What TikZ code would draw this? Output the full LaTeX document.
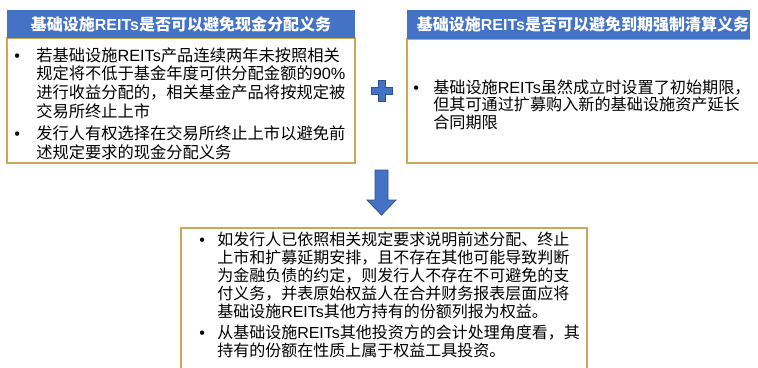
\documentclass[tikz,border=0pt]{standalone}
\usepackage{fontspec}
\setmainfont{Noto Sans CJK SC}
\newfontfamily\lat{Liberation Sans}
\definecolor{hdrblue}{RGB}{68,114,196}
\definecolor{hdredge}{RGB}{47,82,143}
\definecolor{gold}{RGB}{204,168,84}
\lineskiplimit=-20pt
\newcommand{\Rt}{{\lat REITs}}
\newcommand{\bulitem}[3]{\makebox[#1][l]{\lat •}\parbox[t]{#2}{#3}}
\begin{document}
\begin{tikzpicture}[x=0.75pt,y=-0.75pt,
  hdr/.style={fill=hdrblue,draw=none,inner sep=0pt,text=white,font=\fontsize{12}{14}\selectfont\bfseries},
  item/.style={inner sep=0pt,anchor=base west},
  frame/.style={draw=gold,line width=0.8pt},
  blk/.style={fill=hdrblue,draw=hdredge,line width=0.6pt,line join=miter}]
\useasboundingbox (0,0) rectangle (758,368);

% boxes
\node[frame,inner sep=0pt,minimum width=261pt,minimum height=93.75pt] (lbox) at (181,100.5) {};
\draw[frame] (750,39) -- (407,39) -- (407,163) -- (760,163);
\draw[frame] (181,372) -- (181,228) -- (587,228) -- (587,372);

% headers
\node[hdr,minimum width=261pt,minimum height=21pt] (lhdr) at (181,24) {基础设施{\lat REITs}是否可以避免现金分配义务};
\node[hdr,minimum width=257.25pt,minimum height=21.75pt,text width=255.75pt,align=right] (rhdr) at (578.5,24.5) {基础设施{\lat REITs}是否可以避免到期强制清算义务};

% left text
\node[item,font=\fontsize{12.2}{14.175}\selectfont] (l1) at (14,61) {\bulitem{16.5pt}{255pt}{若基础设施\Rt 产品连续两年未按照相关\\规定将不低于基金年度可供分配金额的{\lat 90\%}\\进行收益分配的，相关基金产品将按规定被\\交易所终止上市}};
\node[item,font=\fontsize{12.2}{14.175}\selectfont] (l2) at (14,139.5) {\bulitem{16.5pt}{255pt}{发行人有权选择在交易所终止上市以避免前\\述规定要求的现金分配义务}};

% right text
\node[item,font=\fontsize{12.1}{13.1}\selectfont] (r1) at (413,93.5) {\bulitem{15pt}{245pt}{基础设施\Rt 虽然成立时设置了初始期限，\\但其可通过扩募购入新的基础设施资产延长\\合同期限}};

% bottom text
\node[item,font=\fontsize{12}{13.5}\selectfont] (b1) at (199,245.5) {\bulitem{13.5pt}{285pt}{如发行人已依照相关规定要求说明前述分配、终止\\上市和扩募延期安排，且不存在其他可能导致判断\\为金融负债的约定，则发行人不存在不可避免的支\\付义务，并表原始权益人在合并财务报表层面应将\\基础设施\Rt 其他方持有的份额列报为权益。}};
\node[item,font=\fontsize{12}{13.5}\selectfont] (b2) at (199,338.5) {\bulitem{13.5pt}{285pt}{从基础设施\Rt 其他投资方的会计处理角度看，其\\持有的份额在性质上属于权益工具投资。}};

% plus sign
\draw[blk] (378,80.5) -- (385,80.5) -- (385,87.5) -- (392,87.5) -- (392,94.5) -- (385,94.5) -- (385,101.5) -- (378,101.5) -- (378,94.5) -- (371,94.5) -- (371,87.5) -- (378,87.5) -- cycle;
% down arrow
\draw[blk] (375,170) -- (388,170) -- (388,200) -- (396,200) -- (381.5,215) -- (367,200) -- (375,200) -- cycle;
\end{tikzpicture}
\end{document}
